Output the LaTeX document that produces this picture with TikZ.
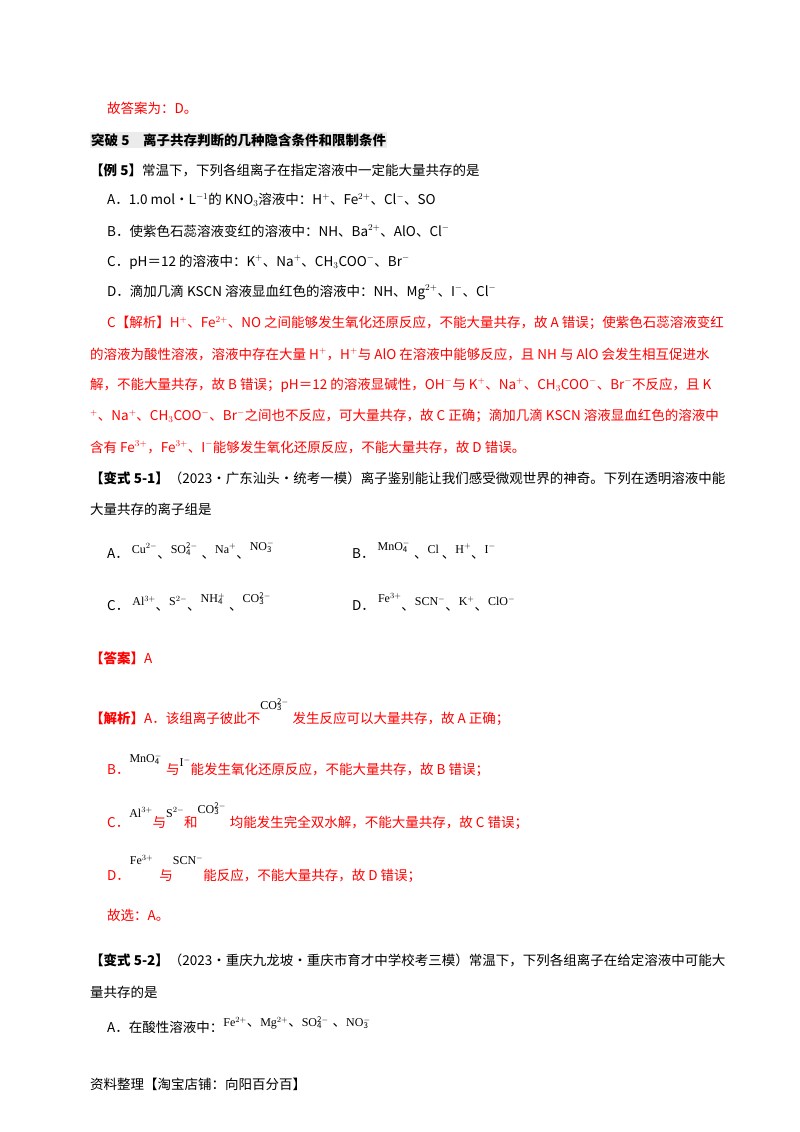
\documentclass[tikz,border=0pt]{standalone}
\usepackage{fontspec}
\setmainfont{Noto Sans CJK SC}
\newfontfamily\tm{Liberation Serif}
\usepackage{mathtools}
\newcommand{\io}[3]{#1$\mathrlap{_{\mathrm{#2}}}^{\mathrm{#3}}$\hspace{4pt}}
\newcommand{\pic}[1]{{\tm\fontsize{12}{12}\selectfont #1}}
\newcommand{\dn}{{\normalfont\fontsize{13.5}{14}\selectfont 、}}
\tikzset{t/.style={anchor=west,inner sep=0pt,font=\fontsize{13.5}{14}\selectfont},
r/.style={t,text=red}}
\begin{document}
\begin{tikzpicture}[x=1pt,y=-1pt]
\useasboundingbox[fill=white] (0,0) rectangle (800,1132);
\node[r] (l0) at (107,108) {故答案为：D。};
\node[t,font=\fontsize{13.5}{14}\selectfont\bfseries,fill=black!8,inner sep=1pt] (ttl) at (90,140) {突破 5\quad 离子共存判断的几种隐含条件和限制条件};
\node[t] (q) at (90,170) {\textbf{【例 5】}常温下，下列各组离子在指定溶液中一定能大量共存的是};
\node[t] (qa) at (107,200) {A．1.0 mol·L$^{-1}$的 KNO$_3$溶液中：H$^+$、Fe$^{2+}$、Cl$^-$、SO};
\node[t] (qb) at (107,231) {B．使紫色石蕊溶液变红的溶液中：NH、Ba$^{2+}$、AlO、Cl$^-$};
\node[t] (qc) at (107,262) {C．pH＝12 的溶液中：K$^+$、Na$^+$、CH$_3$COO$^-$、Br$^-$};
\node[t] (qd) at (107,292) {D．滴加几滴 KSCN 溶液显血红色的溶液中：NH、Mg$^{2+}$、I$^-$、Cl$^-$};
\node[r] (j1) at (107,323) {C【解析】H$^+$、Fe$^{2+}$、NO 之间能够发生氧化还原反应，不能大量共存，故 A 错误；使紫色石蕊溶液变红};
\node[r] (j2) at (90,354) {的溶液为酸性溶液，溶液中存在大量 H$^+$，H$^+$与 AlO 在溶液中能够反应，且 NH 与 AlO 会发生相互促进水};
\node[r] (j3) at (90,385) {解，不能大量共存，故 B 错误；pH＝12 的溶液显碱性，OH$^-$与 K$^+$、Na$^+$、CH$_3$COO$^-$、Br$^-$不反应，且 K};
\node[r] (j4) at (90,416) {$^+$、Na$^+$、CH$_3$COO$^-$、Br$^-$之间也不反应，可大量共存，故 C 正确；滴加几滴 KSCN 溶液显血红色的溶液中};
\node[r] (j5) at (90,447) {含有 Fe$^{3+}$，Fe$^{3+}$、I$^-$能够发生氧化还原反应，不能大量共存，故 D 错误。};
\node[t] (v1) at (90,478) {\textbf{【变式 5-1】}（2023·广东汕头·统考一模）离子鉴别能让我们感受微观世界的神奇。下列在透明溶液中能};
\node[t] (v1b) at (90,509) {大量共存的离子组是};
\node[t] (oa) at (107,550) {A．\ \pic{\raisebox{5pt}{Cu$^{2-}$}\dn\raisebox{5pt}{\io{SO}{4}{2-}}\dn\raisebox{5pt}{Na$^+$}\dn\raisebox{8pt}{\io{NO}{3}{-}}}};
\node[t] (ob) at (352,550) {B．\ \pic{\raisebox{8pt}{\io{MnO}{4}{-}}\dn\raisebox{5pt}{Cl}\ \dn\raisebox{5pt}{H$^+$}\dn\raisebox{5pt}{I$^-$}}};
\node[t] (oc) at (107,602) {C．\ \pic{\raisebox{5pt}{Al$^{3+}$}\dn\raisebox{5pt}{S$^{2-}$}\dn\raisebox{8pt}{\io{NH}{4}{+}}\dn\raisebox{8pt}{\io{CO}{3}{2-}}}};
\node[t] (od) at (352,602) {D．\ \pic{\raisebox{8pt}{Fe$^{3+}$}\dn\raisebox{5pt}{SCN$^-$}\dn\raisebox{5pt}{K$^+$}\dn\raisebox{5pt}{ClO$^-$}}};
\node[r] (ans) at (90,658) {\textbf{【答案】}A};
\node[r] (x1) at (90,712) {\textbf{【解析】}A．该组离子彼此不\pic{\textcolor{black}{\raisebox{14pt}{\io{CO}{3}{2-}}}}发生反应可以大量共存，故 A 正确；};
\node[r] (x2) at (107,765) {B．\pic{\textcolor{black}{\raisebox{12pt}{\io{MnO}{4}{-}}}}与\pic{\textcolor{black}{\raisebox{8pt}{I$^-$}}}能发生氧化还原反应，不能大量共存，故 B 错误；};
\node[r] (x3) at (107,816) {C．\pic{\textcolor{black}{\raisebox{10pt}{Al$^{3+}$}}}与\pic{\textcolor{black}{\raisebox{10pt}{S$^{2-}$}}}和\pic{\textcolor{black}{\raisebox{14pt}{\io{CO}{3}{2-}}}}均能发生完全双水解，不能大量共存，故 C 错误；};
\node[r] (x4) at (107,869) {D．\pic{\textcolor{black}{\raisebox{16pt}{Fe$^{3+}$}}}\ \ 与\pic{\textcolor{black}{\raisebox{16pt}{SCN$^-$}}}能反应，不能大量共存，故 D 错误；};
\node[r] (gx) at (107,915) {故选：A。};
\node[t] (v2) at (90,960) {\textbf{【变式 5-2】}（2023·重庆九龙坡·重庆市育才中学校考三模）常温下，下列各组离子在给定溶液中可能大};
\node[t] (v2b) at (90,992) {量共存的是};
\node[t] (v2a) at (107,1025) {A．在酸性溶液中：\pic{\raisebox{6pt}{Fe$^{2+}$\dn Mg$^{2+}$\dn\io{SO}{4}{2-}\dn\io{NO}{3}{-}}}};
\node[t] (ft) at (90,1084) {资料整理【淘宝店铺：向阳百分百】};
\end{tikzpicture}
\end{document}
